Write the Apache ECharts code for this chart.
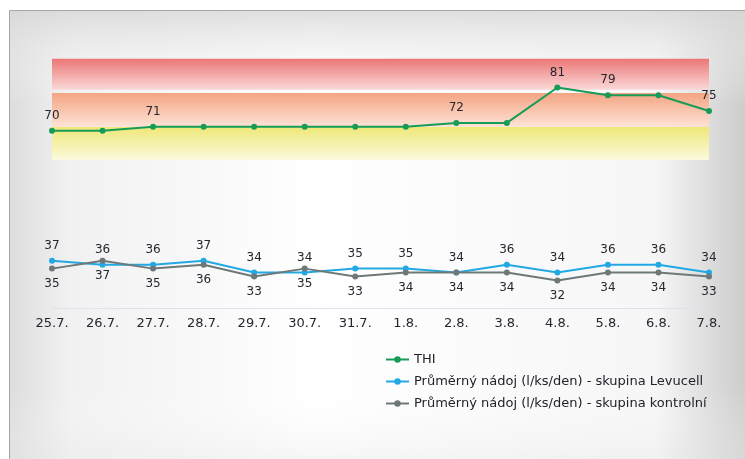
<!DOCTYPE html>
<html>
<head>
<meta charset="utf-8">
<script src="https://cdn.jsdelivr.net/npm/echarts@6/dist/echarts.min.js"></script>
<style>
  html, body { margin: 0; padding: 0; background: #fff; }
  #chart { width: 745px; height: 459px; }
</style>
</head>
<body>
<div id="chart"></div>
<script>
var days = ['25.7.', '26.7.', '27.7.', '28.7.', '29.7.', '30.7.', '31.7.', '1.8.', '2.8.', '3.8.', '4.8.', '5.8.', '6.8.', '7.8.'];
var thi = [70, 70, 71, 71, 71, 71, 71, 71, 72, 72, 81, 79, 79, 75];
var levucell = [37, 36, 36, 37, 34, 34, 35, 35, 34, 36, 34, 36, 36, 34];
var kontrolni = [35, 37, 35, 36, 33, 35, 33, 34, 34, 34, 32, 34, 34, 33];
// only some THI points carry a label in the original
var thiLabeled = [0, 2, 8, 10, 11, 13];
// THI zones (yellow / orange / red): from, to, top colour, bottom colour
var zones = [
    [62.6, 71.0, '#efe878', '#fbf9dc'],
    [71.0, 79.6, '#f4a482', '#fde3d6'],
    [80.4, 88.3, '#ec7676', '#fbd9d9']
];

var font = 'DejaVu Sans';
var txt = '#262630';

function grad(c1, c2) {
    return new echarts.graphic.LinearGradient(0, 0, 0, 1, [
        {offset: 0, color: c1}, {offset: 1, color: c2}
    ]);
}

var myChart = echarts.init(document.getElementById('chart'));

var option = {
    backgroundColor: '#ffffff',
    animation: false,
    textStyle: {fontFamily: font},
    graphic: [
        {
            type: 'rect', z: -10, silent: true,
            shape: {x: 9.5, y: 10.5, width: 760, height: 470},
            style: {
                fill: new echarts.graphic.LinearGradient(0, 0, 1, 0, [
                    {offset: 0, color: '#dcdcdc'},
                    {offset: 0.08, color: '#f1f1f1'},
                    {offset: 0.4, color: '#ffffff'},
                    {offset: 0.85, color: '#f6f6f6'},
                    {offset: 0.95, color: '#d2d2d2'},
                    {offset: 1, color: '#c4c4c4'}
                ]),
                stroke: '#a6a6a6', lineWidth: 1
            }
        },
        {
            type: 'rect', z: -9, silent: true,
            shape: {x: 10, y: 11, width: 760, height: 470},
            style: {
                fill: new echarts.graphic.LinearGradient(0, 0, 0, 1, [
                    {offset: 0, color: 'rgba(215,215,215,0.8)'},
                    {offset: 0.2, color: 'rgba(255,255,255,0)'},
                    {offset: 0.8, color: 'rgba(255,255,255,0)'},
                    {offset: 1, color: 'rgba(225,225,225,0.5)'}
                ])
            }
        }
    ],
    legend: {
        orient: 'vertical',
        left: 380,
        top: 348,
        itemWidth: 23,
        itemHeight: 8,
        itemGap: 9,
        textStyle: {fontFamily: font, fontSize: 13, color: '#22222e'},
        data: ['THI', 'Průměrný nádoj (l/ks/den) - skupina Levucell', 'Průměrný nádoj (l/ks/den) - skupina kontrolní']
    },
    grid: {
        left: 52,
        right: 36,
        top: 52,
        height: 256
    },
    xAxis: {
        type: 'category',
        boundaryGap: false,
        data: days,
        axisLine: {lineStyle: {color: '#dbe4ec', width: 1}},
        axisTick: {show: false},
        axisLabel: {fontFamily: font, fontSize: 13, color: txt, margin: 9}
    },
    yAxis: {
        type: 'value',
        min: 25,
        max: 90,
        show: false,
        splitLine: {show: false}
    },
    series: [
        {
            name: 'THI',
            type: 'line',
            color: '#179c58',
            symbol: 'circle',
            symbolSize: 6,
            lineStyle: {width: 2},
            label: {position: 'top', distance: 6, fontFamily: font, fontSize: 12, color: txt},
            data: thi.map(function (v, i) {
                return {value: v, label: {show: thiLabeled.indexOf(i) >= 0}};
            }),
            markArea: {
                silent: true,
                data: zones.map(function (z) {
                    return [
                        {yAxis: z[0], itemStyle: {color: grad(z[2], z[3])}},
                        {yAxis: z[1]}
                    ];
                })
            },
            z: 4
        },
        {
            name: 'Průměrný nádoj (l/ks/den) - skupina Levucell',
            type: 'line',
            color: '#22a9e4',
            symbol: 'circle',
            symbolSize: 6,
            lineStyle: {width: 2},
            label: {show: true, position: 'top', distance: 6, fontFamily: font, fontSize: 12, color: txt},
            data: levucell
        },
        {
            name: 'Průměrný nádoj (l/ks/den) - skupina kontrolní',
            type: 'line',
            color: '#6f7878',
            symbol: 'circle',
            symbolSize: 6,
            lineStyle: {width: 2},
            label: {show: true, position: 'bottom', distance: 6, fontFamily: font, fontSize: 12, color: txt},
            data: kontrolni
        }
    ]
};

myChart.setOption(option);
</script>
</body>
</html>
